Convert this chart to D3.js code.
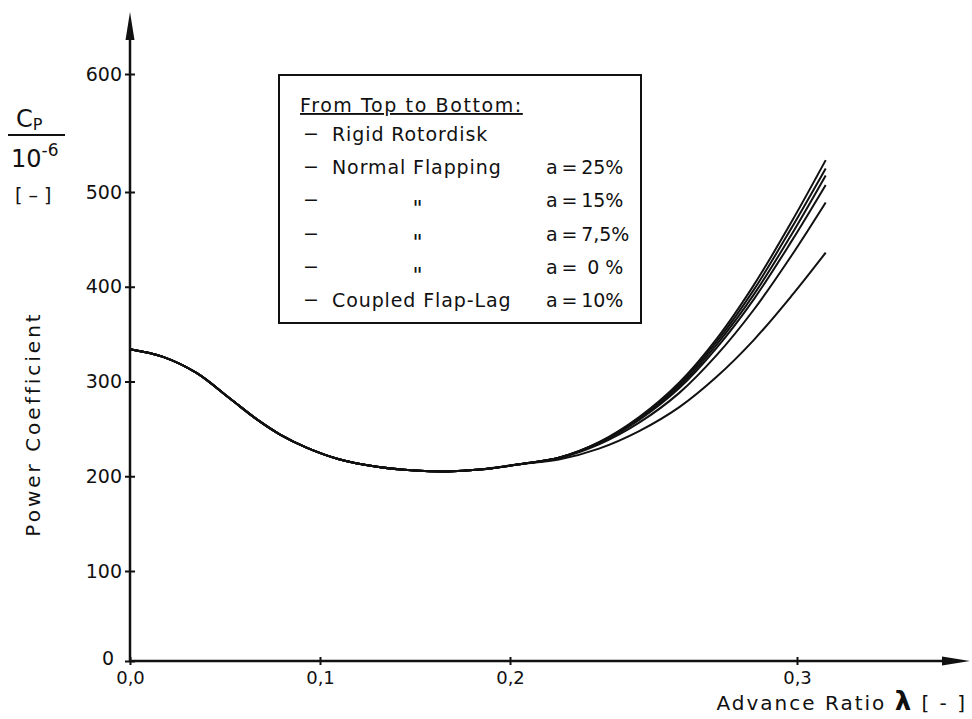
<!DOCTYPE html>
<html>
<head>
<meta charset="utf-8">
<script src="https://cdn.jsdelivr.net/npm/d3@7"></script>
<style>
  body { margin: 0; background: #fff; }
  svg text { font-family: "DejaVu Sans", "Liberation Sans", sans-serif; fill: #111; }
</style>
</head>
<body>
<div id="chart"></div>
<script>
// Shared part of all curves (they lie on top of each other up to about 0.2).
var lambdaShared = [0, 0.0174, 0.035, 0.0526, 0.0668, 0.079, 0.0932, 0.11, 0.13, 0.15, 0.167, 0.184];
var cpShared = [334, 326, 309, 282, 260, 244, 230, 218, 210, 206, 205, 207];

// Where the curves split up.
var lambdaSplit = [0.204, 0.217, 0.231, 0.245, 0.259, 0.272, 0.285, 0.298, 0.31];
var cpRigid = [213, 219.6, 236, 262.5, 299, 345, 402, 468, 527];
var cpFlap25 = [213, 219.5, 235.6, 261.5, 297, 342, 397, 461.6, 520];
var cpFlap15 = [213, 219.5, 235.3, 260.4, 295, 339, 392, 454.6, 514];
var cpFlap75 = [213, 219.5, 235, 259.5, 293, 335.5, 387, 447.6, 506];
var cpFlap0 = [213, 219, 233.7, 256.6, 288, 327.8, 376, 432.5, 489];
var cpCoupled = [213, 217.7, 229.2, 247.7, 273, 305, 344, 390, 436];

var xTicks = [0, 0.1, 0.2, 0.3];
var yTicks = [0, 100, 200, 300, 400, 500, 600];

// Legend rows, top to bottom.
var legendNames = ["Rigid Rotordisk", "Normal Flapping", "\"", "\"", "\"", "Coupled Flap-Lag"];
var legendValues = ["", "a\u2009=\u200925%", "a\u2009=\u200915%", "a\u2009=\u20097,5%", "a\u2009=\u2009 0 %", "a\u2009=\u200910%"];

var width = 972, height = 719;

var svg = d3.select("#chart").append("svg")
    .attr("width", width)
    .attr("height", height);

// The hand drawn axes are not evenly spaced, so piecewise scales.
var x = d3.scaleLinear()
    .domain([0, 0.1, 0.2, 0.3])
    .range([130, 320, 510, 797]);

var y = d3.scaleLinear()
    .domain([0, 100, 500, 600])
    .range([661, 571, 192, 74]);

var commaFormat = function(d) { return d3.format(".1f")(d).replace(".", ","); };

// Y axis.
var yAxis = svg.append("g")
    .attr("transform", "translate(" + x(0) + ",0)")
    .call(d3.axisLeft(y).tickValues(yTicks).tickSize(5).tickPadding(3));
yAxis.select(".domain").remove();
yAxis.selectAll(".tick line").attr("x1", -5).attr("x2", 5).attr("stroke", "#111").attr("stroke-width", 2);
yAxis.selectAll(".tick text")
    .style("font-size", "19px")
    .style("font-family", "'DejaVu Sans', sans-serif");
yAxis.selectAll(".tick").filter(function(d) { return d === 0; }).select("text")
    .attr("x", -16).attr("dy", "0.2em");

// X axis.
var xAxis = svg.append("g")
    .attr("transform", "translate(0," + y(0) + ")")
    .call(d3.axisBottom(x).tickValues(xTicks).tickFormat(commaFormat).tickSize(4).tickPadding(6));
xAxis.select(".domain").remove();
xAxis.selectAll(".tick line").attr("y1", -4).attr("y2", 4).attr("stroke", "#111").attr("stroke-width", 2);
xAxis.selectAll(".tick text")
    .style("font-size", "18px")
    .style("font-family", "'DejaVu Sans', sans-serif");

// Axis lines with long arrow heads.
svg.append("line")
    .attr("x1", x(0)).attr("y1", y(0))
    .attr("x2", x(0)).attr("y2", 30)
    .attr("stroke", "#111").attr("stroke-width", 2.5);
svg.append("path")
    .attr("d", "M" + x(0) + ",12 L" + (x(0) - 4.5) + ",40 L" + (x(0) + 4.5) + ",40 Z")
    .attr("fill", "#111");

svg.append("line")
    .attr("x1", x(0)).attr("y1", y(0))
    .attr("x2", 950).attr("y2", y(0))
    .attr("stroke", "#111").attr("stroke-width", 2.5);
svg.append("path")
    .attr("d", "M970," + y(0) + " L942," + (y(0) - 4.5) + " L942," + (y(0) + 4.5) + " Z")
    .attr("fill", "#111");

// Curves.
var curves = [cpRigid, cpFlap25, cpFlap15, cpFlap75, cpFlap0, cpCoupled].map(function(vals) {
    var pts = lambdaShared.map(function(l, i) { return [l, cpShared[i]]; });
    return pts.concat(lambdaSplit.map(function(l, i) { return [l, vals[i]]; }));
});

var line = d3.line()
    .x(function(d) { return x(d[0]); })
    .y(function(d) { return y(d[1]); })
    .curve(d3.curveCatmullRom.alpha(0.5));

svg.append("g").selectAll("path")
    .data(curves)
    .enter().append("path")
    .attr("d", line)
    .attr("fill", "none")
    .attr("stroke", "#111")
    .attr("stroke-width", 2);

// Axis titles.
svg.append("text")
    .attr("transform", "translate(40,424) rotate(-90)")
    .attr("text-anchor", "middle")
    .style("font-size", "20px")
    .style("letter-spacing", "3px")
    .text("Power Coefficient");

var xt = svg.append("text")
    .attr("x", 967).attr("y", 710)
    .attr("text-anchor", "end")
    .style("font-size", "20px")
    .style("letter-spacing", "2px");
xt.append("tspan").text("Advance Ratio ");
xt.append("tspan").style("font-size", "26px").style("font-weight", "bold").text("\u03BB");
xt.append("tspan").text(" [ - ]");

// Cp / 10^-6 / [-] unit label.
var unit = svg.append("g");
var cp = unit.append("text").attr("x", 16).attr("y", 127).style("font-size", "24px");
cp.append("tspan").text("C");
cp.append("tspan").attr("dy", 3).style("font-size", "16px").text("P");
unit.append("line")
    .attr("x1", 8).attr("x2", 65).attr("y1", 135).attr("y2", 135)
    .attr("stroke", "#111").attr("stroke-width", 2);
var ten = unit.append("text").attr("x", 11).attr("y", 167).style("font-size", "24px");
ten.append("tspan").text("10");
ten.append("tspan").attr("dy", -11).style("font-size", "17px").text("-6");
unit.append("text").attr("x", 15).attr("y", 202).style("font-size", "19px").text("[ \u2013 ]");

// Legend box.
var legend = svg.append("g");
legend.append("rect")
    .attr("x", 279).attr("y", 75)
    .attr("width", 362).attr("height", 248)
    .attr("fill", "#fff").attr("stroke", "#111").attr("stroke-width", 2);

legend.append("text")
    .attr("x", 300).attr("y", 112)
    .style("font-size", "19px")
    .style("letter-spacing", "1.6px")
    .style("text-decoration", "underline")
    .text("From Top to Bottom:");

legendNames.forEach(function(name, i) {
    var yy = 141 + i * 33.2;
    var ditto = name === "\"";
    legend.append("text")
        .attr("x", 303).attr("y", yy - 1)
        .style("font-size", "19px")
        .text("\u2212");
    legend.append("text")
        .attr("x", ditto ? 418 : 332).attr("y", ditto ? yy + 9 : yy)
        .attr("text-anchor", ditto ? "middle" : "start")
        .style("font-size", ditto ? "22px" : "19px")
        .style("letter-spacing", "0.9px")
        .text(name);
    legend.append("text")
        .attr("x", 546).attr("y", yy)
        .style("font-size", "19px")
        .style("white-space", "pre")
        .text(legendValues[i]);
});
</script>
</body>
</html>
